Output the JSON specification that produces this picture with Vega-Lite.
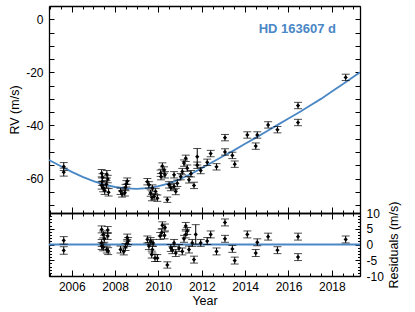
{
  "$schema": "https://vega.github.io/schema/vega-lite/v6.json",
  "padding": {"left": 8, "top": 5, "right": 5, "bottom": 5},
  "spacing": 0,
  "bounds": "flush",
  "config": {
    "font": "Liberation Sans",
    "view": {"stroke": null},
    "axis": {"grid": false, "domainColor": "black", "tickColor": "black", "labelColor": "black", "titleColor": "black", "labelFontSize": 12, "titleFontSize": 12.5, "titleFontWeight": "normal", "labelFont": "Liberation Sans", "titleFont": "Liberation Sans", "domainWidth": 1.3, "tickWidth": 1}
  },
  "datasets": {
    "model": [
      {"year": 2004.95, "rv": -53.0}, {"year": 2005.5, "rv": -55.4}, {"year": 2006.0, "rv": -57.5}, {"year": 2006.5, "rv": -59.4},
      {"year": 2007.0, "rv": -61.0}, {"year": 2007.5, "rv": -62.3}, {"year": 2008.0, "rv": -63.2}, {"year": 2008.5, "rv": -63.7},
      {"year": 2009.0, "rv": -63.9}, {"year": 2009.5, "rv": -63.6}, {"year": 2010.0, "rv": -62.9}, {"year": 2010.5, "rv": -61.8},
      {"year": 2011.0, "rv": -60.2}, {"year": 2011.5, "rv": -58.3}, {"year": 2012.0, "rv": -56.1}, {"year": 2012.5, "rv": -53.8},
      {"year": 2013.0, "rv": -51.5}, {"year": 2013.5, "rv": -49.3}, {"year": 2014.0, "rv": -46.9}, {"year": 2014.5, "rv": -44.6},
      {"year": 2015.0, "rv": -42.2}, {"year": 2015.5, "rv": -39.8}, {"year": 2016.0, "rv": -37.4}, {"year": 2016.5, "rv": -35.0},
      {"year": 2017.0, "rv": -32.5}, {"year": 2017.5, "rv": -30.0}, {"year": 2018.0, "rv": -27.2}, {"year": 2018.5, "rv": -24.5},
      {"year": 2019.0, "rv": -21.7}, {"year": 2019.3, "rv": -20.0}
    ],
    "rvpts": [
      {"year": 2005.63, "rv": -55.5, "err": 1.5}, {"year": 2005.63, "rv": -57.6, "err": 1.5},
      {"year": 2007.38, "rv": -58.0, "err": 1.4}, {"year": 2007.42, "rv": -59.6, "err": 1.4}, {"year": 2007.40, "rv": -61.2, "err": 1.4},
      {"year": 2007.38, "rv": -62.6, "err": 1.4}, {"year": 2007.45, "rv": -63.6, "err": 1.4}, {"year": 2007.52, "rv": -64.6, "err": 1.4},
      {"year": 2007.62, "rv": -58.4, "err": 1.4}, {"year": 2007.66, "rv": -60.2, "err": 1.4}, {"year": 2007.60, "rv": -62.2, "err": 1.4},
      {"year": 2007.70, "rv": -65.2, "err": 1.4},
      {"year": 2008.25, "rv": -64.8, "err": 1.2}, {"year": 2008.32, "rv": -65.8, "err": 1.2}, {"year": 2008.45, "rv": -65.4, "err": 1.2},
      {"year": 2008.52, "rv": -62.0, "err": 1.2}, {"year": 2008.56, "rv": -61.0, "err": 1.2}, {"year": 2008.48, "rv": -63.4, "err": 1.2},
      {"year": 2009.49, "rv": -61.2, "err": 1.2}, {"year": 2009.56, "rv": -62.4, "err": 1.2}, {"year": 2009.72, "rv": -63.6, "err": 1.2},
      {"year": 2009.64, "rv": -65.5, "err": 1.2}, {"year": 2009.80, "rv": -66.8, "err": 1.2}, {"year": 2009.95, "rv": -67.4, "err": 1.2},
      {"year": 2009.87, "rv": -64.9, "err": 1.2}, {"year": 2009.70, "rv": -67.2, "err": 1.2},
      {"year": 2010.41, "rv": -68.0, "err": 1.0},
      {"year": 2010.18, "rv": -55.3, "err": 1.2}, {"year": 2010.26, "rv": -56.8, "err": 1.2}, {"year": 2010.10, "rv": -58.0, "err": 1.2},
      {"year": 2010.30, "rv": -58.6, "err": 1.2}, {"year": 2010.12, "rv": -59.3, "err": 1.2},
      {"year": 2010.49, "rv": -62.4, "err": 1.2}, {"year": 2010.57, "rv": -63.4, "err": 1.2}, {"year": 2010.72, "rv": -63.0, "err": 1.2},
      {"year": 2010.80, "rv": -64.9, "err": 1.2}, {"year": 2010.87, "rv": -61.8, "err": 1.2}, {"year": 2010.72, "rv": -58.6, "err": 1.2},
      {"year": 2011.03, "rv": -59.3, "err": 1.2}, {"year": 2011.10, "rv": -57.4, "err": 1.2}, {"year": 2011.18, "rv": -54.2, "err": 1.2},
      {"year": 2011.26, "rv": -52.4, "err": 1.2}, {"year": 2011.33, "rv": -56.1, "err": 1.2}, {"year": 2011.41, "rv": -60.5, "err": 1.2},
      {"year": 2011.50, "rv": -58.2, "err": 1.2}, {"year": 2011.64, "rv": -62.6, "err": 1.2}, {"year": 2011.79, "rv": -51.8, "err": 3.1},
      {"year": 2011.79, "rv": -55.0, "err": 1.2}, {"year": 2011.95, "rv": -57.0, "err": 1.2},
      {"year": 2012.25, "rv": -53.9, "err": 1.2}, {"year": 2012.41, "rv": -50.6, "err": 1.2}, {"year": 2012.68, "rv": -55.6, "err": 1.2},
      {"year": 2013.07, "rv": -44.6, "err": 1.2}, {"year": 2013.07, "rv": -50.0, "err": 1.2}, {"year": 2013.41, "rv": -51.3, "err": 1.2},
      {"year": 2013.52, "rv": -54.6, "err": 1.2},
      {"year": 2014.10, "rv": -43.6, "err": 1.2}, {"year": 2014.49, "rv": -47.8, "err": 1.2}, {"year": 2014.56, "rv": -43.6, "err": 1.2},
      {"year": 2015.06, "rv": -39.8, "err": 1.2}, {"year": 2015.49, "rv": -41.6, "err": 1.2},
      {"year": 2016.44, "rv": -32.5, "err": 1.2}, {"year": 2016.44, "rv": -38.9, "err": 1.2},
      {"year": 2018.64, "rv": -21.9, "err": 1.2}
    ],
    "resid": [
      {"year": 2005.63, "res": 1.3, "err": 1.2}, {"year": 2005.63, "res": -1.9, "err": 1.2},
      {"year": 2007.38, "res": 4.8, "err": 1.1}, {"year": 2007.66, "res": 4.6, "err": 1.1}, {"year": 2007.45, "res": 3.2, "err": 1.1},
      {"year": 2007.50, "res": 1.8, "err": 1.1}, {"year": 2007.38, "res": 0.5, "err": 1.1}, {"year": 2007.45, "res": -0.9, "err": 1.1},
      {"year": 2007.62, "res": -1.6, "err": 1.1}, {"year": 2007.68, "res": -2.1, "err": 1.1}, {"year": 2007.38, "res": -0.5, "err": 1.1},
      {"year": 2007.66, "res": 2.7, "err": 1.1},
      {"year": 2008.56, "res": 2.2, "err": 1.1}, {"year": 2008.56, "res": 0.5, "err": 1.1}, {"year": 2008.25, "res": -1.6, "err": 1.1},
      {"year": 2008.40, "res": -2.2, "err": 1.1}, {"year": 2008.48, "res": -0.8, "err": 1.1}, {"year": 2008.60, "res": 1.1, "err": 1.1},
      {"year": 2009.49, "res": 1.6, "err": 1.1}, {"year": 2009.64, "res": 1.1, "err": 1.1}, {"year": 2009.56, "res": -0.5, "err": 1.1},
      {"year": 2009.72, "res": -1.6, "err": 1.1}, {"year": 2009.69, "res": -3.2, "err": 1.1}, {"year": 2009.84, "res": -4.3, "err": 1.1},
      {"year": 2009.95, "res": -4.3, "err": 1.1}, {"year": 2009.75, "res": 0.5, "err": 1.1},
      {"year": 2010.41, "res": -6.5, "err": 1.0},
      {"year": 2010.18, "res": 6.1, "err": 1.1}, {"year": 2010.30, "res": 5.4, "err": 1.1}, {"year": 2010.15, "res": 3.8, "err": 1.1},
      {"year": 2010.28, "res": 2.9, "err": 1.1}, {"year": 2010.08, "res": 2.7, "err": 1.1},
      {"year": 2010.57, "res": -1.1, "err": 1.1}, {"year": 2010.64, "res": -1.8, "err": 1.1}, {"year": 2010.72, "res": 0.5, "err": 1.1},
      {"year": 2010.80, "res": -2.7, "err": 1.1}, {"year": 2010.95, "res": -1.1, "err": 1.1}, {"year": 2011.10, "res": -2.2, "err": 1.1},
      {"year": 2011.26, "res": 5.9, "err": 1.1}, {"year": 2011.26, "res": 3.2, "err": 1.1}, {"year": 2011.18, "res": 1.8, "err": 1.1},
      {"year": 2011.33, "res": 4.3, "err": 1.1}, {"year": 2011.41, "res": -1.6, "err": 1.1}, {"year": 2011.56, "res": 0.5, "err": 1.1},
      {"year": 2011.72, "res": 3.2, "err": 3.1}, {"year": 2011.64, "res": -4.8, "err": 1.1}, {"year": 2011.95, "res": 0.5, "err": 1.1},
      {"year": 2012.41, "res": 3.2, "err": 1.1}, {"year": 2012.25, "res": 1.1, "err": 1.1}, {"year": 2012.68, "res": -2.2, "err": 1.1},
      {"year": 2013.07, "res": 7.0, "err": 1.1}, {"year": 2013.07, "res": 1.8, "err": 1.1}, {"year": 2013.41, "res": -1.4, "err": 1.1},
      {"year": 2013.52, "res": -5.1, "err": 1.1},
      {"year": 2014.10, "res": 3.2, "err": 1.1}, {"year": 2014.49, "res": -2.7, "err": 1.1}, {"year": 2014.56, "res": 0.7, "err": 1.1},
      {"year": 2015.06, "res": 2.5, "err": 1.1}, {"year": 2015.49, "res": -1.8, "err": 1.1},
      {"year": 2016.44, "res": 2.5, "err": 1.1}, {"year": 2016.44, "res": -4.0, "err": 1.1},
      {"year": 2018.64, "res": 1.6, "err": 1.1}
    ]
  },
  "vconcat": [
    {
      "width": 311,
      "height": 207,
      "title": {"text": "HD 163607 d", "anchor": "end", "frame": "group", "orient": "top", "offset": -30, "dx": -24, "color": "#4a87c5", "fontSize": 13, "fontWeight": "bold", "font": "Liberation Sans"},
      "layer": [
        {
          "data": {"name": "model"},
          "mark": {"type": "line", "color": "#4a87c5", "strokeWidth": 1.8, "clip": true},
          "encoding": {
            "x": {"field": "year", "type": "quantitative", "scale": {"domain": [2004.95, 2019.3], "nice": false, "zero": false},
                  "axis": {"orient": "bottom", "values": [2006, 2008, 2010, 2012, 2014, 2016, 2018], "tickSize": -6, "labels": false, "title": null}},
            "y": {"field": "rv", "type": "quantitative", "scale": {"domain": [-73, 5], "nice": false, "zero": false},
                  "axis": {"orient": "left", "values": [-70, -65, -60, -55, -50, -45, -40, -35, -30, -25, -20, -15, -10, -5, 0, 5], "tickSize": -5,
                           "labelExpr": "datum.value % 20 === 0 ? '' + datum.value : ''", "labelPadding": 11, "title": "RV (m/s)", "titlePadding": 4}}
          }
        },
        {
          "data": {"name": "rvpts"},
          "mark": {"type": "errorbar", "color": "black", "thickness": 1, "ticks": {"size": 8, "thickness": 1, "color": "black"}},
          "encoding": {
            "x": {"field": "year", "type": "quantitative", "scale": {"domain": [2004.95, 2019.3], "nice": false, "zero": false}, "axis": null},
            "y": {"field": "rv", "type": "quantitative", "scale": {"domain": [-73, 5], "nice": false, "zero": false}, "axis": null},
            "yError": {"field": "err"}
          }
        },
        {
          "data": {"name": "rvpts"},
          "mark": {"type": "point", "shape": "diamond", "filled": true, "color": "black", "size": 18, "opacity": 1},
          "encoding": {
            "x": {"field": "year", "type": "quantitative", "scale": {"domain": [2004.95, 2019.3], "nice": false, "zero": false},
                  "axis": {"orient": "top", "values": [2006, 2008, 2010, 2012, 2014, 2016, 2018], "tickSize": -6, "labels": false, "title": null}},
            "y": {"field": "rv", "type": "quantitative", "scale": {"domain": [-73, 5], "nice": false, "zero": false},
                  "axis": {"orient": "right", "values": [-70, -65, -60, -55, -50, -45, -40, -35, -30, -25, -20, -15, -10, -5, 0, 5], "tickSize": -5, "labels": false, "title": null}}
          }
        },
        {
          "data": {"name": "model"},
          "mark": {"type": "point", "opacity": 0},
          "encoding": {
            "x": {"field": "year", "type": "quantitative", "scale": {"domain": [2004.95, 2019.3], "nice": false, "zero": false},
                  "axis": {"orient": "bottom", "values": [2005, 2005.5, 2006, 2006.5, 2007, 2007.5, 2008, 2008.5, 2009, 2009.5, 2010, 2010.5, 2011, 2011.5, 2012, 2012.5, 2013, 2013.5, 2014, 2014.5, 2015, 2015.5, 2016, 2016.5, 2017, 2017.5, 2018, 2018.5, 2019], "tickSize": -3, "labels": false, "domain": false, "title": null}},
            "y": {"field": "rv", "type": "quantitative", "scale": {"domain": [-73, 5], "nice": false, "zero": false}, "axis": null}
          }
        },
        {
          "data": {"name": "model"},
          "mark": {"type": "point", "opacity": 0},
          "encoding": {
            "x": {"field": "year", "type": "quantitative", "scale": {"domain": [2004.95, 2019.3], "nice": false, "zero": false},
                  "axis": {"orient": "top", "values": [2005, 2005.5, 2006, 2006.5, 2007, 2007.5, 2008, 2008.5, 2009, 2009.5, 2010, 2010.5, 2011, 2011.5, 2012, 2012.5, 2013, 2013.5, 2014, 2014.5, 2015, 2015.5, 2016, 2016.5, 2017, 2017.5, 2018, 2018.5, 2019], "tickSize": -3, "labels": false, "domain": false, "title": null}},
            "y": {"field": "rv", "type": "quantitative", "scale": {"domain": [-73, 5], "nice": false, "zero": false}, "axis": null}
          }
        }
      ],
      "resolve": {"axis": {"x": "independent", "y": "independent"}}
    },
    {
      "width": 311,
      "height": 63,
      "layer": [
        {
          "data": {"values": [{}]},
          "mark": {"type": "rule", "color": "#4a87c5", "strokeWidth": 1.8},
          "encoding": {"y": {"datum": 0, "type": "quantitative", "scale": {"domain": [-10, 10], "nice": false, "zero": false}, "axis": null}}
        },
        {
          "data": {"name": "resid"},
          "mark": {"type": "errorbar", "color": "black", "thickness": 1, "ticks": {"size": 8, "thickness": 1, "color": "black"}},
          "encoding": {
            "x": {"field": "year", "type": "quantitative", "scale": {"domain": [2004.95, 2019.3], "nice": false, "zero": false}, "axis": null},
            "y": {"field": "res", "type": "quantitative", "scale": {"domain": [-10, 10], "nice": false, "zero": false}, "axis": null},
            "yError": {"field": "err"}
          }
        },
        {
          "data": {"name": "resid"},
          "mark": {"type": "point", "shape": "diamond", "filled": true, "color": "black", "size": 18, "opacity": 1},
          "encoding": {
            "x": {"field": "year", "type": "quantitative", "scale": {"domain": [2004.95, 2019.3], "nice": false, "zero": false},
                  "axis": {"orient": "bottom", "values": [2006, 2008, 2010, 2012, 2014, 2016, 2018], "tickSize": -6, "labelExpr": "'' + datum.value", "labelPadding": 11, "title": "Year", "titlePadding": 2}},
            "y": {"field": "res", "type": "quantitative", "scale": {"domain": [-10, 10], "nice": false, "zero": false},
                  "axis": {"orient": "right", "values": [-10, -5, 0, 5, 10], "tickSize": -5, "labelExpr": "'' + datum.value", "labelPadding": 11, "title": "Residuals (m/s)", "titleAngle": 270, "titleBaseline": "top", "titlePadding": 4}}
          }
        },
        {
          "data": {"name": "resid"},
          "mark": {"type": "point", "opacity": 0},
          "encoding": {
            "x": {"field": "year", "type": "quantitative", "scale": {"domain": [2004.95, 2019.3], "nice": false, "zero": false},
                  "axis": {"orient": "bottom", "values": [2005, 2005.5, 2006, 2006.5, 2007, 2007.5, 2008, 2008.5, 2009, 2009.5, 2010, 2010.5, 2011, 2011.5, 2012, 2012.5, 2013, 2013.5, 2014, 2014.5, 2015, 2015.5, 2016, 2016.5, 2017, 2017.5, 2018, 2018.5, 2019], "tickSize": -3, "labels": false, "domain": false, "title": null}},
            "y": {"field": "res", "type": "quantitative", "scale": {"domain": [-10, 10], "nice": false, "zero": false},
                  "axis": {"orient": "right", "values": [-10, -9, -8, -7, -6, -5, -4, -3, -2, -1, 0, 1, 2, 3, 4, 5, 6, 7, 8, 9, 10], "tickSize": -2.5, "labels": false, "domain": false, "title": null}}
          }
        },
        {
          "data": {"name": "resid"},
          "mark": {"type": "point", "opacity": 0},
          "encoding": {
            "x": {"field": "year", "type": "quantitative", "scale": {"domain": [2004.95, 2019.3], "nice": false, "zero": false},
                  "axis": {"orient": "top", "values": [2006, 2008, 2010, 2012, 2014, 2016, 2018], "tickSize": -6, "labels": false, "title": null}},
            "y": {"field": "res", "type": "quantitative", "scale": {"domain": [-10, 10], "nice": false, "zero": false},
                  "axis": {"orient": "left", "values": [-10, -5, 0, 5, 10], "tickSize": -5, "labels": false, "title": null}}
          }
        },
        {
          "data": {"name": "resid"},
          "mark": {"type": "point", "opacity": 0},
          "encoding": {
            "x": {"field": "year", "type": "quantitative", "scale": {"domain": [2004.95, 2019.3], "nice": false, "zero": false},
                  "axis": {"orient": "top", "values": [2005, 2005.5, 2006, 2006.5, 2007, 2007.5, 2008, 2008.5, 2009, 2009.5, 2010, 2010.5, 2011, 2011.5, 2012, 2012.5, 2013, 2013.5, 2014, 2014.5, 2015, 2015.5, 2016, 2016.5, 2017, 2017.5, 2018, 2018.5, 2019], "tickSize": -3, "labels": false, "domain": false, "title": null}},
            "y": {"field": "res", "type": "quantitative", "scale": {"domain": [-10, 10], "nice": false, "zero": false},
                  "axis": {"orient": "left", "values": [-10, -9, -8, -7, -6, -5, -4, -3, -2, -1, 0, 1, 2, 3, 4, 5, 6, 7, 8, 9, 10], "tickSize": -2.5, "labels": false, "domain": false, "title": null}}
          }
        }
      ],
      "resolve": {"axis": {"x": "independent", "y": "independent"}}
    }
  ]
}
